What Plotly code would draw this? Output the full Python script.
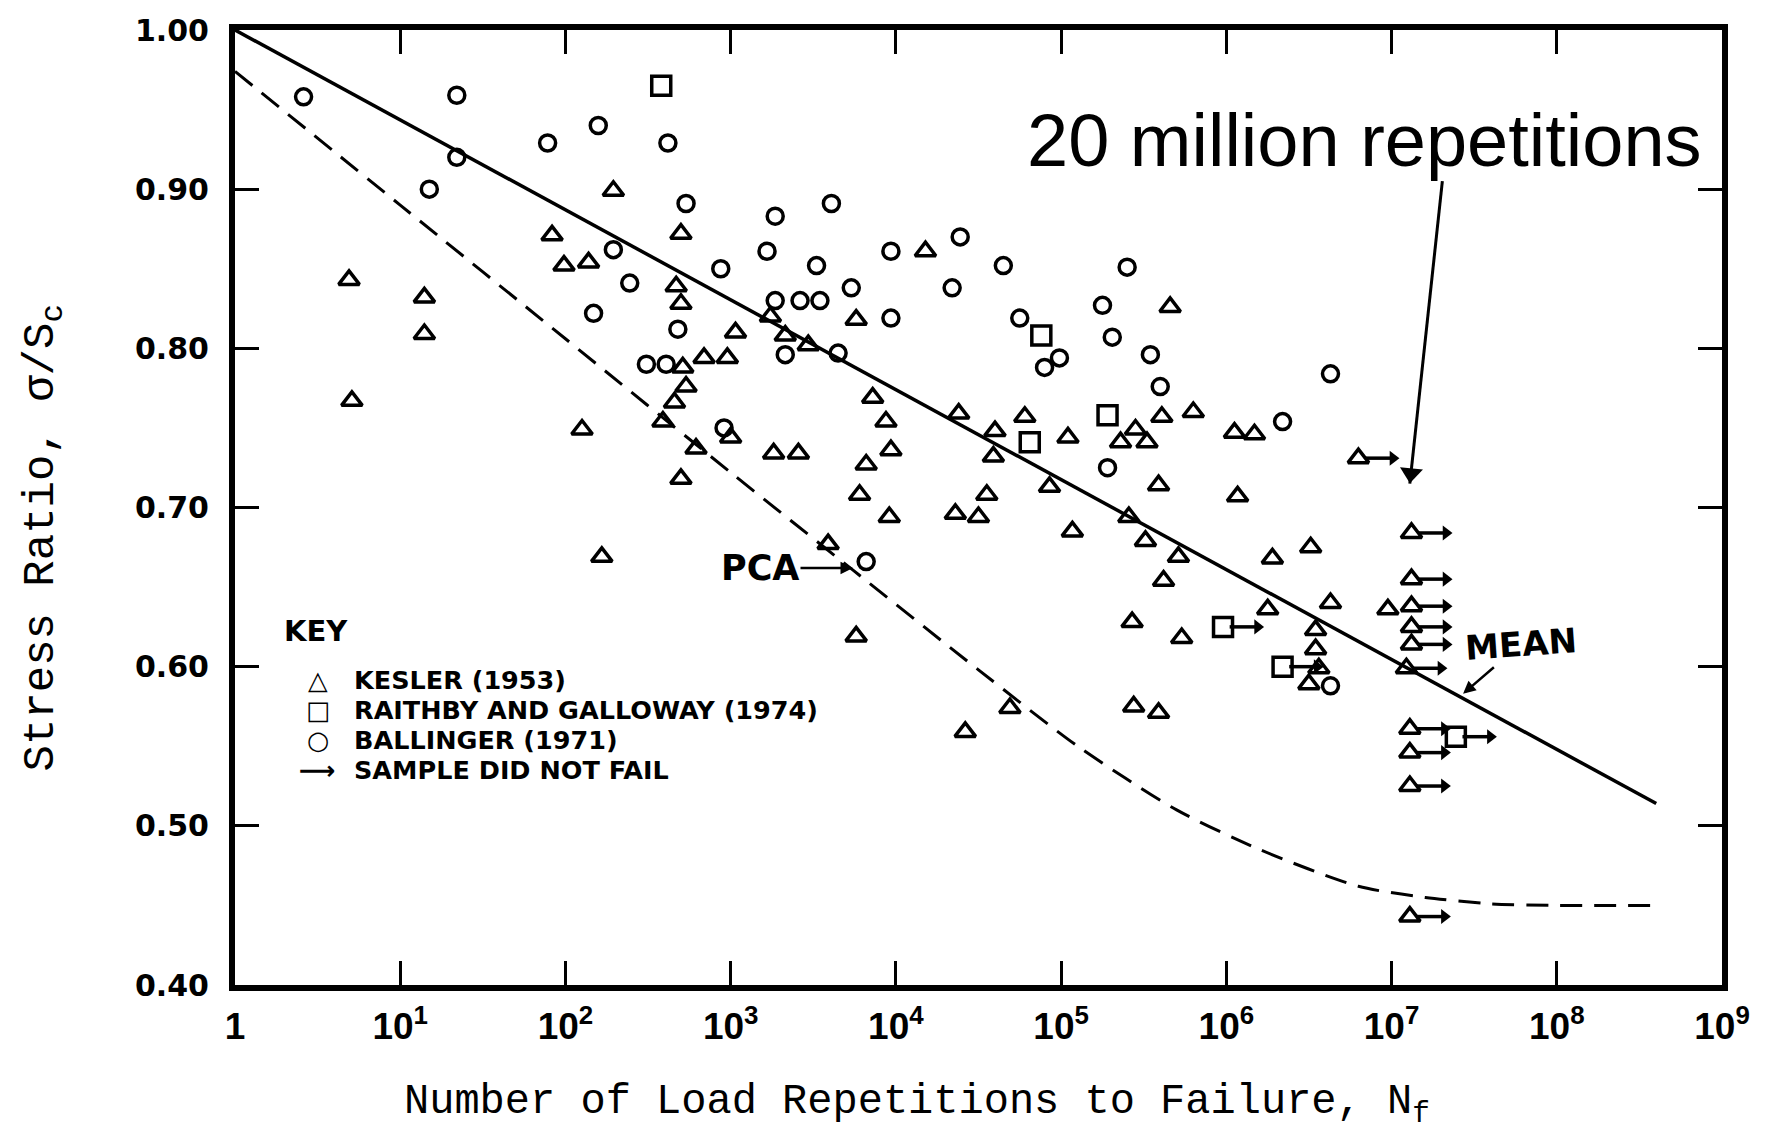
import math
import plotly.graph_objects as go

# ---------------- data ----------------
# Kesler (1953) - samples that failed
kesler_n = [4.9, 14, 14, 5.1, 195, 83, 500, 98, 138, 468, 500, 1070, 690, 955, 513, 537, 457, 389, 126, 1000, 617, 500, 166,
            15100, 1740, 5750, 457000, 2140, 2950, 7240, 8710, 24000, 60300,
            407000, 631000, 39800, 110000, 229000, 282000, 331000, 1820, 2570, 9330,
            6610, 38900, 85100, 389000, 1120000, 1480000, 6030, 35500, 1170000,
            3890, 9120, 22900, 31600, 117000, 257000, 324000, 513000, 417000, 5750,
            269000, 537000, 49000, 26300, 275000, 389000,
            1900000, 3240000, 1780000, 4270000, 9500000, 3470000, 3470000, 3630000, 3160000]
kesler_sr = [0.843, 0.832, 0.809, 0.767, 0.899, 0.871, 0.872, 0.852, 0.854, 0.839, 0.828, 0.810, 0.794, 0.794, 0.788, 0.776, 0.766, 0.754, 0.749, 0.744, 0.737, 0.718, 0.669,
             0.861, 0.820, 0.818, 0.826, 0.808, 0.802, 0.769, 0.754, 0.759, 0.757,
             0.757, 0.760, 0.748, 0.744, 0.741, 0.749, 0.741, 0.734, 0.734, 0.736,
             0.727, 0.732, 0.713, 0.714, 0.747, 0.746, 0.708, 0.708, 0.707,
             0.677, 0.694, 0.696, 0.694, 0.685, 0.694, 0.679, 0.669, 0.654, 0.619,
             0.628, 0.618, 0.574, 0.559, 0.575, 0.571,
             0.668, 0.675, 0.636, 0.640, 0.636, 0.623, 0.611, 0.599, 0.589]

# Kesler (1953) - samples that did not fail
kesler_runout_n = [6300000, 13200000, 13200000, 13200000, 13200000, 13200000, 12300000,
                   12900000, 12900000, 12900000, 12900000]
kesler_runout_sr = [0.731, 0.684, 0.655, 0.638, 0.625, 0.614, 0.599, 0.561, 0.546, 0.525, 0.443]

# Raithby and Galloway (1974)
raithby_n = [380, 75900, 191000, 64600]
raithby_sr = [0.965, 0.808, 0.758, 0.741]
raithby_runout_n = [955000, 2190000, 24500000]
raithby_runout_sr = [0.625, 0.600, 0.556]

# Ballinger (1971)
ballinger_n = [2.6, 22, 158, 78, 417, 22, 15, 537, 195, 871, 245, 148, 479, 309, 407, 912,
               4070, 1860, 1660, 24500, 9330, 3310, 44700, 251000, 5370, 21900,
               1860, 2630, 3470, 9330, 56200, 178000, 204000, 2140, 4470, 97700,
               79400, 347000, 398000, 191000, 4270000, 2190000, 6610, 4270000]
ballinger_sr = [0.958, 0.959, 0.940, 0.929, 0.929, 0.920, 0.900, 0.891, 0.862, 0.850, 0.841, 0.822, 0.812, 0.790, 0.790, 0.750,
                0.891, 0.883, 0.861, 0.870, 0.861, 0.852, 0.852, 0.851, 0.838, 0.838,
                0.830, 0.830, 0.830, 0.819, 0.819, 0.827, 0.807, 0.796, 0.797, 0.794,
                0.788, 0.796, 0.776, 0.725, 0.784, 0.754, 0.666, 0.588]

# Mean fatigue line
mean_n = [1, 400000000]
mean_sr = [1.000, 0.514]

# PCA design curve (dashed)
pca_n = [1, 10, 100, 1000, 5600, 31600, 126000, 500000, 1600000, 6300000, 16000000, 40000000, 100000000, 400000000]
pca_sr = [0.974, 0.890, 0.806, 0.722, 0.660, 0.598, 0.550, 0.510, 0.485, 0.462, 0.455, 0.451, 0.450, 0.450]

# Annotation anchors
pca_label_n, pca_label_sr = 5500, 0.662
mean_label_n, mean_label_sr = 27100000, 0.583
million_arrow_n = [20300000, 12900000]   # tail (under the text) -> tip
million_arrow_sr = [0.905, 0.715]

x_tickvals = [1, 10, 100, 1000, 10000, 100000, 1000000, 10000000, 100000000, 1000000000]
x_ticktext = ["1", "10<sup>1</sup>", "10<sup>2</sup>", "10<sup>3</sup>", "10<sup>4</sup>",
              "10<sup>5</sup>", "10<sup>6</sup>", "10<sup>7</sup>", "10<sup>8</sup>", "10<sup>9</sup>"]
y_tickvals = [0.40, 0.50, 0.60, 0.70, 0.80, 0.90, 1.00]

key_title = "KEY"
key_symbols = ["△", "□", "○", "<b>⟶</b>"]
key_labels = ["KESLER (1953)", "RAITHBY AND GALLOWAY (1974)", "BALLINGER (1971)", "SAMPLE DID NOT FAIL"]

# ---------------- figure ----------------
BLACK = "#000000"
BOLD_FONT = "DejaVu Sans, Verdana, sans-serif"
MONO_FONT = "Liberation Mono, Courier New, monospace"

fig = go.Figure()

fig.add_trace(go.Scatter(x=pca_n, y=pca_sr, mode="lines", name="PCA",
                         line=dict(color=BLACK, width=3, dash="22px,12px", shape="spline", smoothing=0.7),
                         showlegend=False))
fig.add_trace(go.Scatter(x=mean_n, y=mean_sr, mode="lines", name="MEAN",
                         line=dict(color=BLACK, width=3.5), showlegend=False))

tri = dict(symbol="triangle-up-open", size=18, color=BLACK, line=dict(width=3.5, color=BLACK))
sq = dict(symbol="square-open", size=19, color=BLACK, line=dict(width=3.5, color=BLACK))
circ = dict(symbol="circle-open", size=16, color=BLACK, line=dict(width=3.5, color=BLACK))

fig.add_trace(go.Scatter(x=kesler_n, y=kesler_sr, mode="markers", name=key_labels[0], marker=tri, showlegend=False))
fig.add_trace(go.Scatter(x=kesler_runout_n, y=kesler_runout_sr, mode="markers", name=key_labels[0] + " - did not fail",
                         marker=tri, showlegend=False))
fig.add_trace(go.Scatter(x=raithby_n, y=raithby_sr, mode="markers", name=key_labels[1], marker=sq, showlegend=False))
fig.add_trace(go.Scatter(x=raithby_runout_n, y=raithby_runout_sr, mode="markers", name=key_labels[1] + " - did not fail",
                         marker=sq, showlegend=False))
fig.add_trace(go.Scatter(x=ballinger_n, y=ballinger_sr, mode="markers", name=key_labels[2], marker=circ, showlegend=False))

# "sample did not fail" arrows: a short shaft to the right of each run-out point, with a filled head
HEAD = 13
arr_x, arr_y, arr_sym, arr_size = [], [], [], []
for n, sr in zip(kesler_runout_n + raithby_runout_n, kesler_runout_sr + raithby_runout_sr):
    arr_x += [n * 10 ** 0.04, n * 10 ** 0.209, None]
    arr_y += [sr, sr, None]
    arr_sym += ["circle", "triangle-up", "circle"]
    arr_size += [0, HEAD, 0]
fig.add_trace(go.Scatter(x=arr_x, y=arr_y, mode="lines+markers", name="SAMPLE DID NOT FAIL",
                         line=dict(color=BLACK, width=3.5),
                         marker=dict(symbol=arr_sym, size=arr_size, color=BLACK, opacity=1,
                                     angleref="previous", line=dict(width=0)),
                         showlegend=False, connectgaps=False, hoverinfo="skip"))

# arrow from the "20 million repetitions" note: shaft to the tip, head placed just before the tip
lt, lp = math.log10(million_arrow_n[0]), math.log10(million_arrow_n[1])
frac = 0.966
head_n = 10 ** (lt + frac * (lp - lt))
head_sr = million_arrow_sr[0] + frac * (million_arrow_sr[1] - million_arrow_sr[0])
fig.add_trace(go.Scatter(x=[million_arrow_n[0], head_n, million_arrow_n[1]],
                         y=[million_arrow_sr[0], head_sr, million_arrow_sr[1]],
                         mode="lines+markers", name="20 million repetitions",
                         line=dict(color=BLACK, width=3),
                         marker=dict(symbol=["circle", "triangle-up", "circle"], size=[0, 20, 0], color=BLACK,
                                     opacity=1, angleref="previous", line=dict(width=0)),
                         showlegend=False, hoverinfo="skip"))

annotations = []

# PCA label
annotations.append(dict(x=math.log10(pca_label_n), y=pca_label_sr, xref="x", yref="y", text="<b>PCA</b>",
                        showarrow=True, ax=-93, ay=0, arrowhead=2, arrowsize=1, arrowwidth=2.5, arrowcolor=BLACK,
                        font=dict(family=BOLD_FONT, size=35, color=BLACK)))
# MEAN label
annotations.append(dict(x=math.log10(mean_label_n), y=mean_label_sr, xref="x", yref="y", text="<b>MEAN</b>",
                        showarrow=True, ax=58, ay=-50, arrowhead=2, arrowsize=1, arrowwidth=2.5, arrowcolor=BLACK,
                        textangle=-4, font=dict(family=BOLD_FONT, size=34, color=BLACK)))
# 20 million repetitions
annotations.append(dict(x=0.7599, y=0.8847, xref="paper", yref="paper", text="20 million repetitions",
                        showarrow=False, xanchor="center", yanchor="middle",
                        font=dict(family="Liberation Sans, Arial, sans-serif", size=74, color=BLACK)))

# Key
annotations.append(dict(x=0.0323, y=0.3706, xref="paper", yref="paper", text="<b>" + key_title + "</b>",
                        showarrow=False, xanchor="left", yanchor="middle", borderpad=0,
                        font=dict(family=BOLD_FONT, size=29, color=BLACK)))
key_rows_y = [0.3194, 0.2881, 0.2568, 0.2255]
for i, sym in enumerate(key_symbols):
    annotations.append(dict(x=0.0558, y=key_rows_y[i], xref="paper", yref="paper", text=sym,
                            showarrow=False, xanchor="center", yanchor="middle", borderpad=0,
                            font=dict(family=BOLD_FONT, size=25.5, color=BLACK)))
for i, lab in enumerate(key_labels):
    annotations.append(dict(x=0.0794, y=key_rows_y[i], xref="paper", yref="paper", text="<b>" + lab + "</b>",
                            showarrow=False, xanchor="left", yanchor="middle", borderpad=0,
                            font=dict(family=BOLD_FONT, size=25.5, color=BLACK)))

# Axis titles
annotations.append(dict(x=0.1123, y=-0.1253, xref="paper", yref="paper",
                        text="Number of Load Repetitions to Failure, N<sub>f</sub>",
                        showarrow=False, xanchor="left", yanchor="middle",
                        font=dict(family=MONO_FONT, size=42, color=BLACK)))
annotations.append(dict(x=-0.1291, y=0.4676, xref="paper", yref="paper",
                        text="Stress Ratio, σ/S<sub>c</sub>", textangle=-90,
                        showarrow=False, xanchor="center", yanchor="middle",
                        font=dict(family=MONO_FONT, size=44, color=BLACK)))

fig.update_layout(
    width=1776, height=1143,
    margin=dict(l=235, r=54, t=27, b=158),
    paper_bgcolor="white", plot_bgcolor="white",
    showlegend=False,
    annotations=annotations,
)

fig.update_xaxes(type="log", range=[0, 9], tickvals=x_tickvals, ticktext=x_ticktext,
                 showgrid=False, zeroline=False, showline=True, linewidth=6, linecolor=BLACK,
                 mirror="ticks", ticks="inside", ticklen=24, tickwidth=3, tickcolor=BLACK,
                 ticklabelstandoff=4,
                 tickfont=dict(family="Liberation Sans, Arial, sans-serif", size=37, color=BLACK, weight="bold"))
fig.update_yaxes(range=[0.40, 1.00], tickvals=y_tickvals, tickformat=".2f",
                 showgrid=False, zeroline=False, showline=True, linewidth=6, linecolor=BLACK,
                 mirror="ticks", ticks="inside", ticklen=24, tickwidth=3, tickcolor=BLACK,
                 ticklabelstandoff=14,
                 tickfont=dict(family=BOLD_FONT, size=30, color=BLACK, weight="bold"))

fig.write_html("out.html")
